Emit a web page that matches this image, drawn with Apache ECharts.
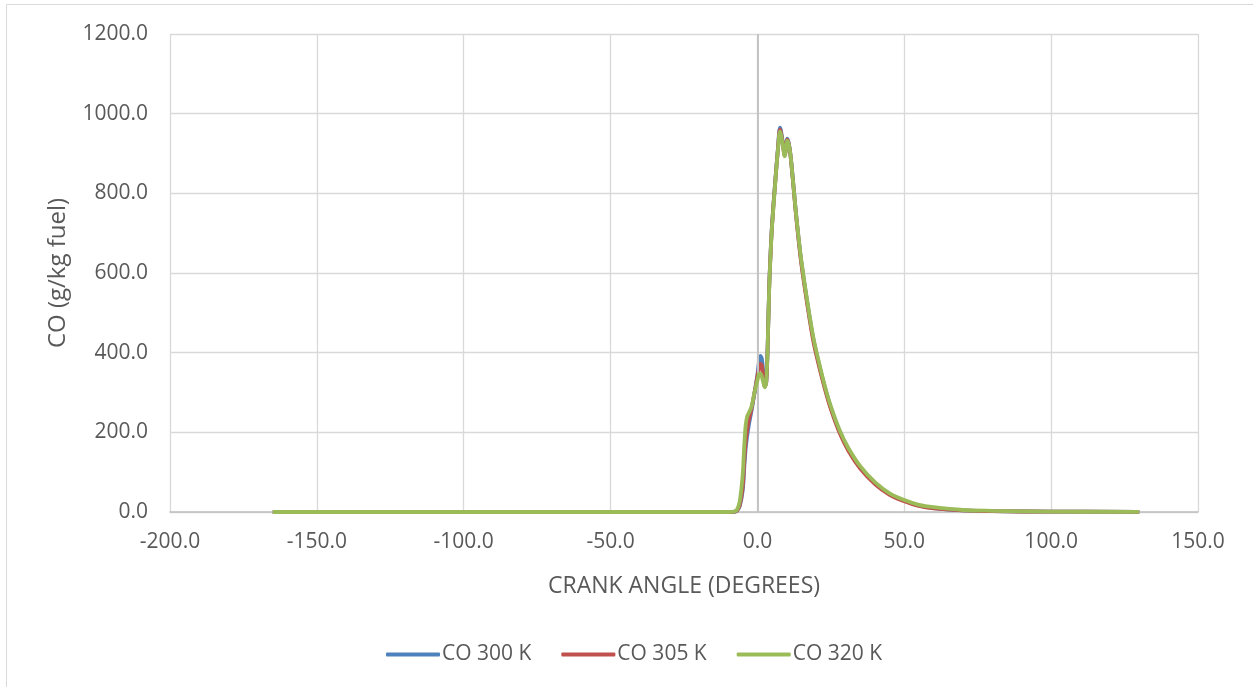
<!DOCTYPE html>
<html>
<head>
<meta charset="utf-8">
<script src="https://cdn.jsdelivr.net/npm/echarts@6/dist/echarts.min.js"></script>
<style>
html,body{margin:0;padding:0;background:#fff;}
#chart{width:1253px;height:687px;}
</style>
</head>
<body>
<div id="chart"></div>
<script>
// Crank angle (degrees)
var crankAngle = [-165, -60, -20, -10, -8, -7, -6, -5, -4.5, -4, -3.5, -3, -2, -1, 0, 0.5, 1, 1.5, 2, 2.5, 3, 3.5, 4, 4.5, 5, 6, 7, 7.7, 8.5, 9.3, 10.2, 11, 12, 13, 14, 15, 17, 19, 21, 23, 25, 28, 31, 35, 40, 45, 50, 55, 60, 70, 80, 100, 130];
// CO (g/kg fuel)
var co300 = [0, 0, 0, 0, 0.5, 3, 15, 55, 110, 160, 190, 215, 255, 298, 345, 375, 392, 385, 350, 318, 325, 420, 565, 655, 725, 825, 915, 965, 935, 898, 937, 912, 842, 760, 688, 625, 525, 436, 370, 312, 262, 202, 157, 112, 72, 45, 28, 16, 10, 4, 2, 1, 0.5];
var co305 = [0, 0, 0, 0, 0.5, 3, 18, 65, 125, 175, 205, 228, 260, 300, 340, 360, 372, 368, 340, 315, 325, 420, 562, 652, 722, 822, 912, 960, 932, 896, 935, 910, 838, 756, 684, 620, 520, 430, 365, 308, 258, 198, 153, 109, 70, 43, 27, 15, 9, 4, 2, 1, 0.5];
var co320 = [0, 0, 0, 0, 1, 5, 28, 95, 165, 218, 240, 248, 265, 300, 330, 345, 348, 340, 325, 313, 328, 420, 560, 650, 720, 820, 910, 955, 928, 893, 932, 910, 840, 760, 690, 628, 528, 440, 374, 315, 265, 205, 160, 115, 75, 47, 30, 18, 12, 5, 3, 1, 0.5];
var seriesNames = ['CO 300 K', 'CO 305 K', 'CO 320 K'];
var seriesColors = ['#4F81BD', '#C0504D', '#9BBB59'];

function pairs(ys) { return crankAngle.map(function (x, i) { return [x, ys[i]]; }); }
var allY = [co300, co305, co320];

var font = '"Open Sans", "Noto Sans", sans-serif';
var series = allY.map(function (ys, i) {
  return {
    name: seriesNames[i], type: 'line', data: pairs(ys), showSymbol: false, symbol: 'none',
    smooth: 0.35, z: 3 + i,
    lineStyle: { color: seriesColors[i], width: 3.8 }, itemStyle: { color: seriesColors[i] }
  };
});
series.push({
  type: 'line', data: [], z: 1, silent: true,
  markLine: { silent: true, symbol: 'none', label: { show: false },
    lineStyle: { color: '#C4C4C4', width: 2, type: 'solid' }, data: [{ xAxis: 0 }] }
});

var chart = echarts.init(document.getElementById('chart'), null, { renderer: 'canvas' });
chart.setOption({
  animation: false,
  backgroundColor: '#fff',
  textStyle: { fontFamily: font },
  graphic: [{ type: 'rect', silent: true, shape: { x: 6.5, y: 4.5, width: 1300, height: 720 },
    style: { fill: 'none', stroke: '#D9D9D9', lineWidth: 1 } }],
  grid: { left: 170, right: 55, top: 34, bottom: 175, containLabel: false },
  legend: {
    data: seriesNames, bottom: 17, left: 381, itemWidth: 54, itemHeight: 4, itemGap: 30,
    icon: 'roundRect',
    textStyle: { color: '#595959', fontSize: 21, fontFamily: font, padding: [0, 0, 0, -3] }
  },
  xAxis: {
    type: 'value', min: -200, max: 150, interval: 50,
    name: 'CRANK ANGLE (DEGREES)', nameLocation: 'middle', nameGap: 63,
    nameTextStyle: { color: '#595959', fontSize: 23, fontFamily: font },
    axisLine: { show: true, onZero: false, lineStyle: { color: '#BFBFBF', width: 1.5 } },
    axisTick: { show: false },
    axisLabel: { color: '#595959', fontSize: 21, fontFamily: font, margin: 20,
      formatter: function (v) { return v.toFixed(1); } },
    splitLine: { show: true, lineStyle: { color: '#D9D9D9', width: 1.3 } }
  },
  yAxis: {
    type: 'value', min: 0, max: 1200, interval: 200,
    name: 'CO (g/kg fuel)', nameLocation: 'middle', nameGap: 100, nameRotate: 90,
    nameTextStyle: { color: '#595959', fontSize: 24, fontFamily: font },
    axisLine: { show: false }, axisTick: { show: false },
    axisLabel: { color: '#595959', fontSize: 21, fontFamily: font, margin: 22,
      formatter: function (v) { return v.toFixed(1); } },
    splitLine: { show: true, lineStyle: { color: '#D9D9D9', width: 1.3 } }
  },
  series: series
});
</script>
</body>
</html>
